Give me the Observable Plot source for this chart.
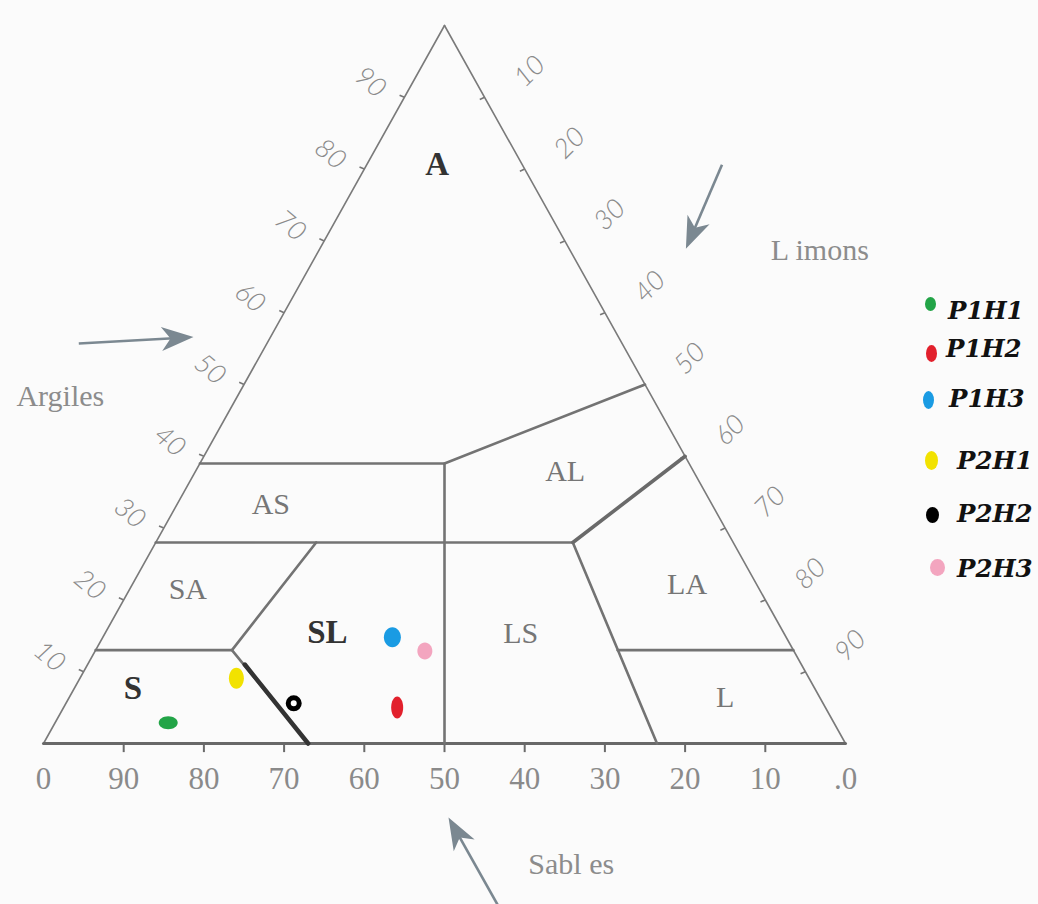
<!DOCTYPE html>
<html>
<head>
<meta charset="utf-8">
<script src="https://cdn.jsdelivr.net/npm/d3@7"></script>
<script src="https://cdn.jsdelivr.net/npm/@observablehq/plot@0.6"></script>
<style>
  html, body { margin: 0; padding: 0; background: #fbfbfb; }
  #wrap { position: relative; width: 1038px; height: 904px; overflow: hidden; }
  #chart svg { display: block; }
  .lg-text { position: absolute; font-family: "DejaVu Serif", serif; font-weight: bold; font-style: italic; font-size: 24.5px; color: #111; line-height: 24px; white-space: nowrap; }
</style>
</head>
<body>
<div id="wrap">
  <div id="chart"></div>
  <div id="legend"></div>
</div>
<script>
// ---------------- DATA ----------------
// Soil samples (percent sand / silt (limons) / clay (argiles))
const sampleNames  = ["P1H1", "P1H2", "P1H3", "P2H1", "P2H2", "P2H3"];
const sampleSand   = [83.0, 53.4, 49.1, 71.4, 66.0, 46.0];
const sampleSilt   = [14.1, 41.6, 36.1, 19.5, 28.4, 41.1];
const sampleClay   = [2.9,  5.0,  14.8, 9.1,  5.6,  12.9];
const sampleColors = ["#22a447", "#e2202c", "#1a9be3", "#f2e200", "#000000", "#f3a5bf"];

// Axis ticks
const bottomTickSand   = [100, 90, 80, 70, 60, 50, 40, 30, 20, 10, 0];
const bottomTickLabels = ["0", "90", "80", "70", "60", "50", "40", "30", "20", "10", ".0"];
const clayTicks = [10, 20, 30, 40, 50, 60, 70, 80, 90];
const siltTicks = [10, 20, 30, 40, 50, 60, 70, 80, 90];

// Texture classes: label and a point inside each class as [sand, clay]
const classNames  = ["A", "AS", "AL", "SA", "SL", "LS", "LA", "S", "L"];
const classSand   = [10.6, 55.0, 16.0, 71.3, 56.9, 32.8, 8.7, 85.0, 11.8];
const classClay   = [80.6, 33.3, 37.9, 21.4, 15.4, 15.4, 22.1, 7.7, 6.4];
const classBold   = [true, false, false, false, true, false, false, true, false];

// Class boundaries as polylines of [sand, clay]
const triangleEdges = [[[100, 0], [0, 100]], [[0, 100], [0, 0]]];
const triangleBase  = [[[100, 0], [0, 0]]];
const classLines = [
  [[87, 13], [70, 13], [67, 0]],
  [[70, 13], [52, 28]],
  [[72, 28], [20, 28]],
  [[61, 39], [30.5, 39], [50, 0]],
  [[30.5, 39], [0, 50]],
  [[20, 28], [23.5, 0]],
  [[21.9, 13], [0, 13]]
];
const heavyLines = [[[20, 28], [0, 40]]];
const markedLines = [[[69.4, 11], [67, 0]]];

// Axis titles and arrows (plane coordinates: x = silt + clay/2, y = clay)
const axisTitles = ["Argiles", "L imons", "Sabl es"];
const axisTitleX = [2.1, 96.8, 65.8];
const axisTitleY = [48.3, 68.7, -16.8];
const arrowFrom = [[4.4, 55.7], [84.6, 80.6], [57.4, -24.0]];
const arrowTo   = [[18.7, 56.6], [80.1, 68.9], [50.5, -10.3]];

// ---------------- LAYOUT / STYLE ----------------
const W = 1038, H = 904, ML = 43, MR = 193, MT = 25, MB = 161;
const kx = (W - ML - MR) / 100, ky = (H - MT - MB) / 100;
const classSpacing = {AL: 7, LS: 7, LA: 3};

const toPlane = (sand, clay) => {
  const silt = 100 - sand - clay;
  return {x: silt + clay / 2, y: clay};
};

function lineRows(lines, prefix) {
  const rows = [];
  lines.forEach((pts, i) => pts.forEach(([s, c]) => rows.push({...toPlane(s, c), seg: prefix + i})));
  return rows;
}

function ellipseSymbol(rx, ry) {
  const k = 0.5523;
  return {draw(ctx) {
    ctx.moveTo(rx, 0);
    ctx.bezierCurveTo(rx, ry * k, rx * k, ry, 0, ry);
    ctx.bezierCurveTo(-rx * k, ry, -rx, ry * k, -rx, 0);
    ctx.bezierCurveTo(-rx, -ry * k, -rx * k, -ry, 0, -ry);
    ctx.bezierCurveTo(rx * k, -ry, rx, -ry * k, rx, 0);
    ctx.closePath();
  }};
}
const dartSymbol = {draw(ctx) {
  ctx.moveTo(0, 0);
  ctx.lineTo(-12, 32);
  ctx.lineTo(0, 23);
  ctx.lineTo(12, 32);
  ctx.closePath();
}};

const markerShape = [[9.5, 6.5], [6, 11], [8.5, 10], [7.5, 10.5], [5.5, 5.5], [7.5, 8.5]];
const legendShape = [[5.5, 7], [5.5, 8.5], [5.5, 9], [6.5, 9.5], [6.5, 8], [7.5, 8.5]];
const legendLayout = [
  {y: 304, dotX: 930, textX: 948, textY: 311},
  {y: 353, dotX: 931, textX: 946, textY: 349},
  {y: 400, dotX: 928, textX: 949, textY: 399},
  {y: 460, dotX: 931, textX: 957, textY: 461},
  {y: 515, dotX: 932, textX: 957, textY: 514},
  {y: 567, dotX: 937, textX: 957, textY: 569}
];

// ---------------- DERIVED TABLES ----------------
const samples = sampleNames.map((n, i) => ({name: n, ...toPlane(sampleSand[i], sampleClay[i]), color: sampleColors[i]}));
const classes = classNames.map((n, i) => ({name: n, ...toPlane(classSand[i], classClay[i]), bold: classBold[i]}));
const bottomTicks = bottomTickSand.map((s, i) => ({...toPlane(s, 0), label: bottomTickLabels[i]}));
const leftTicks = clayTicks.map(c => ({...toPlane(100 - c, c), label: String(c)}));
const rightTicks = siltTicks.map(l => ({...toPlane(0, 100 - l), label: String(l)}));
const titles = axisTitles.map((t, i) => ({text: t, x: axisTitleX[i], y: axisTitleY[i]}));
const arrows = arrowFrom.map((f, i) => {
  const [x1, y1] = f, [x2, y2] = arrowTo[i];
  const ang = Math.atan2((x2 - x1) * kx, (y2 - y1) * ky) * 180 / Math.PI;
  return {x1, y1, x2, y2, rot: ang};
});
const shafts = arrows.map(a => {
  const L = Math.hypot((a.x2 - a.x1) * kx, (a.y2 - a.y1) * ky);
  const t = (L - 20) / L;
  return {x1: a.x1, y1: a.y1, x2: a.x1 + (a.x2 - a.x1) * t, y2: a.y1 + (a.y2 - a.y1) * t};
});

const gray = "#777777";
const sampleMarks = samples.map((d, i) => {
  const [rx, ry] = markerShape[i];
  if (d.name === "P2H2") {
    return Plot.dot([d], {x: "x", y: "y", r: rx, fill: "#ffffff", stroke: "#000", strokeWidth: 5});
  }
  return Plot.dot([d], {x: "x", y: "y", symbol: ellipseSymbol(rx, ry), fill: d.color, stroke: "none"});
});
const plainLabelMarks = classes.filter(d => !d.bold).map(d =>
  Plot.text([d], {x: "x", y: "y", text: "name", fontFamily: "Liberation Serif", fontSize: 30, fill: "#767676", letterSpacing: classSpacing[d.name] || 0})
);

const chart = Plot.plot({
  width: W, height: H,
  marginLeft: ML, marginRight: MR, marginTop: MT, marginBottom: MB,
  x: {domain: [0, 100], axis: null},
  y: {domain: [0, 100], axis: null},
  style: {background: "transparent", overflow: "visible"},
  marks: [
    // ticks
    Plot.link(bottomTicks.slice(1, -1), {x1: "x", y1: 0, x2: "x", y2: -1.2, stroke: "#6a6a6a", strokeWidth: 2}),
    Plot.link(leftTicks, {x1: "x", y1: "y", x2: d => d.x - 0.6, y2: d => d.y + 0.3, stroke: gray, strokeWidth: 1.6}),
    Plot.link(rightTicks, {x1: "x", y1: "y", x2: d => d.x - 0.6, y2: d => d.y - 0.3, stroke: gray, strokeWidth: 1.6}),
    // triangle
    Plot.line(lineRows(triangleEdges, "e"), {x: "x", y: "y", z: "seg", stroke: "#7a7a7a", strokeWidth: 1.6}),
    Plot.line(lineRows(triangleBase, "b"), {x: "x", y: "y", z: "seg", stroke: "#686868", strokeWidth: 3}),
    // class boundaries
    Plot.line(lineRows(classLines, "c"), {x: "x", y: "y", z: "seg", stroke: "#737373", strokeWidth: 2.6}),
    Plot.line(lineRows(heavyLines, "h"), {x: "x", y: "y", z: "seg", stroke: "#6a6a6a", strokeWidth: 3.6}),
    Plot.line(lineRows(markedLines, "m"), {x: "x", y: "y", z: "seg", stroke: "#333333", strokeWidth: 4.5}),
    // class labels
    ...plainLabelMarks,
    Plot.text(classes.filter(d => d.bold), {x: "x", y: "y", text: "name", fontFamily: "Liberation Serif", fontWeight: "bold", fontSize: 33, fill: "#333"}),
    // tick labels
    Plot.text(bottomTicks, {x: "x", y: "y", text: "label", dy: 36, fontFamily: "Liberation Serif", fontSize: 31, fill: "#8a8a8a"}),
    Plot.text(leftTicks, {x: "x", y: "y", text: "label", dx: -34, dy: -15, rotate: 40, fontFamily: "Lato", fontStyle: "italic", fontWeight: 300, fontSize: 27, fill: "#8a8a8a"}),
    Plot.text(rightTicks, {x: "x", y: "y", text: "label", dx: 45, dy: -26, rotate: -45, fontFamily: "Lato", fontStyle: "italic", fontWeight: 300, fontSize: 27, fill: "#8a8a8a"}),
    // axis titles
    Plot.text(titles, {x: "x", y: "y", text: "text", fontFamily: "Liberation Serif", fontSize: 30, fill: "#8c8c8c"}),
    // arrows
    Plot.link(shafts, {x1: "x1", y1: "y1", x2: "x2", y2: "y2", stroke: "#7b8891", strokeWidth: 2.6}),
    Plot.dot(arrows, {x: "x2", y: "y2", rotate: "rot", symbol: dartSymbol, fill: "#7b8891", stroke: "none"}),
    // samples
    ...sampleMarks
  ]
});
document.getElementById("chart").append(chart);

// ---------------- LEGEND ----------------
const legend = document.getElementById("legend");
const svgNS = "http://www.w3.org/2000/svg";
sampleNames.forEach((name, i) => {
  const L = legendLayout[i];
  const [rx, ry] = legendShape[i];
  const s = document.createElementNS(svgNS, "svg");
  s.setAttribute("width", 2 * rx + 2);
  s.setAttribute("height", 2 * ry + 2);
  s.style.position = "absolute";
  s.style.left = (L.dotX - rx - 1) + "px";
  s.style.top = (L.y - ry - 1) + "px";
  const e = document.createElementNS(svgNS, "ellipse");
  e.setAttribute("cx", rx + 1); e.setAttribute("cy", ry + 1);
  e.setAttribute("rx", rx); e.setAttribute("ry", ry);
  e.setAttribute("fill", sampleColors[i]);
  s.appendChild(e);
  legend.appendChild(s);
  const t = document.createElement("div");
  t.className = "lg-text";
  t.textContent = name;
  t.style.left = L.textX + "px";
  t.style.top = (L.textY - 12) + "px";
  legend.appendChild(t);
});
</script>
</body>
</html>
